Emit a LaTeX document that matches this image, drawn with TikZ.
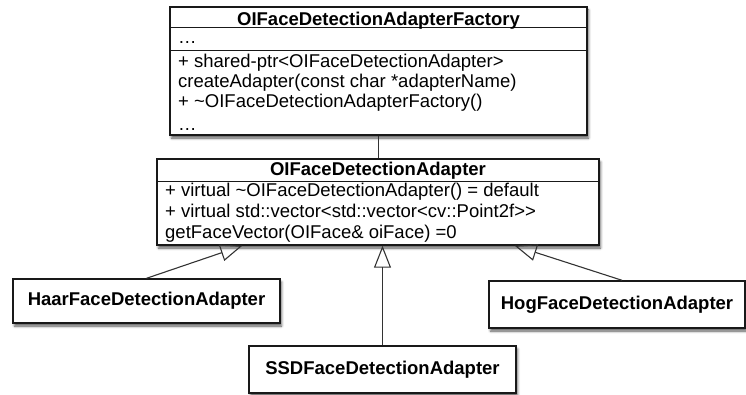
\documentclass[tikz,border=0pt]{standalone}
\usepackage{fontspec}
\setmainfont{Liberation Sans}
\usetikzlibrary{arrows.meta,shadows.blur}
\begin{document}
\begin{tikzpicture}[x=1pt,y=-1pt,
  box/.style={draw=black!90, line width=1.4pt, fill=white, inner sep=0pt,
    blur shadow={shadow xshift=1.5pt, shadow yshift=-3pt, shadow blur radius=2.5pt, shadow opacity=65}},
  sep/.style={draw=black!90, line width=1.3pt},
  title/.style={font=\fontsize{18.5}{20}\selectfont\bfseries, inner sep=0pt, anchor=base},
  member/.style={font=\fontsize{18.5}{20}\selectfont, inner sep=0pt, anchor=base west},
  leaf/.style={box, font=\fontsize{18.5}{20}\selectfont\bfseries},
  link/.style={draw=black!80, line width=1.1pt},
  inherit/.style={link, -{Triangle[open, length=22pt, width=17pt, line width=1.1pt]}}]
\useasboundingbox (0,0) rectangle (746,395);

% factory class
\node[box, minimum width=417pt, minimum height=128pt] (fac) at (378.5,71) {};
\draw[sep] ([yshift=-21pt]fac.north west) -- ([yshift=-21pt]fac.north east);
\draw[sep] ([yshift=-44pt]fac.north west) -- ([yshift=-44pt]fac.north east);
\node[title] (facname) at (378.5,26) {OIFaceDetectionAdapterFactory};
\node[member] (facattr) at (178,44) {\dots};
\node[member] (facm1) at (178,68) {+ shared-ptr<OIFaceDetectionAdapter>};
\node[member] (facm2) at (178,88) {createAdapter(const char *adapterName)};
\node[member] (facm3) at (178,108) {+ \textasciitilde OIFaceDetectionAdapterFactory()};
\node[member] (facm4) at (178,131) {\dots};

% abstract adapter
\node[box, minimum width=442pt, minimum height=86pt] (ada) at (378,202) {};
\draw[sep] ([yshift=-23pt]ada.north west) -- ([yshift=-23pt]ada.north east);
\node[title] (adaname) at (378,176) {OIFaceDetectionAdapter};
\node[member] (adam1) at (165,197) {+ virtual \textasciitilde OIFaceDetectionAdapter() = default};
\node[member] (adam2) at (165,218) {+ virtual std::vector<std::vector<cv::Point2f>{}>};
\node[member] (adam3) at (165,239) {getFaceVector(OIFace\& oiFace) =0};

% concrete adapters
\node[leaf, minimum width=267pt, minimum height=44pt] (haar) at (146.5,301) {HaarFaceDetectionAdapter};
\node[leaf, minimum width=256pt, minimum height=47pt] (hog) at (617,304.5) {HogFaceDetectionAdapter};
\node[leaf, minimum width=267pt, minimum height=47pt] (ssd) at (382.5,369.5) {SSDFaceDetectionAdapter};

% connectors
\draw[link] (fac.south) -- (fac.south |- ada.north);
\draw[inherit] (haar.north) -- ([xshift=86pt]ada.south west);
\draw[inherit] (ssd.north) -- (ssd.north |- ada.south);
\draw[inherit] ([xshift=5pt]hog.north) -- ([xshift=-85pt]ada.south east);
\end{tikzpicture}
\end{document}
